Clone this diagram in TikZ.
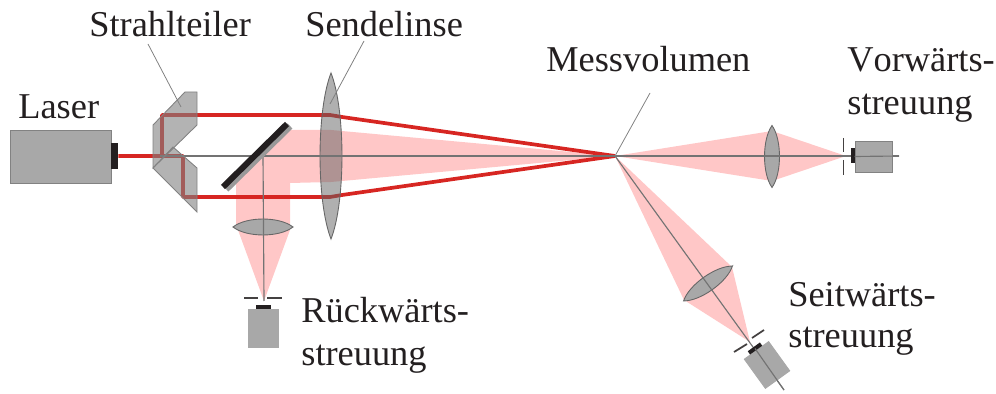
\documentclass[tikz,border=0pt]{standalone}
\usepackage{fontspec}
\setmainfont{Liberation Serif}
\usepackage{xcolor}
\usetikzlibrary{calc}
\definecolor{gehaeuse}{RGB}{168,168,168}
\definecolor{kante}{RGB}{130,130,130}
\definecolor{strahl}{RGB}{215,38,34}
\definecolor{tinte}{RGB}{35,31,32}
\tikzset{
  kasten/.style={rectangle, draw=kante, fill=gehaeuse, line width=0.5pt, inner sep=0pt},
  stutzen/.style={rectangle, fill=tinte, draw=none, inner sep=0pt},
  prisma/.style={draw=kante, fill=black!50, fill opacity=0.6, line width=0.5pt},
  linsenform/.style={draw=black!60, fill=gehaeuse, line width=0.5pt},
  linsenformA/.style={linsenform, fill=black!62, fill opacity=0.5},
  kegel/.style={fill=red!22, draw=none},
  achse/.style={draw=black!55, line width=0.65pt},
  leitlinie/.style={draw=black!50, line width=0.45pt},
  blende/.style={draw=tinte!85, line width=1pt},
  strahlgang/.style={draw=strahl, line width=2.1pt, line join=round},
  beschriftung/.style={font=\fontsize{20.7}{23}\selectfont, text=tinte, inner sep=0pt, align=left},
}
% center, half length, half width, rotation, style
\newcommand{\linse}[5]{
  \begin{scope}[shift={#1}, rotate=#4]
    \draw[#5] (0,-#2) .. controls ({#3*1.33},{-#2*0.55}) and ({#3*1.33},{#2*0.55}) .. (0,#2)
      .. controls ({-#3*1.33},{#2*0.55}) and ({-#3*1.33},{-#2*0.55}) .. cycle;
  \end{scope}
}
\begin{document}
\begin{tikzpicture}[x=0.02cm, y=-0.02cm]
  \useasboundingbox (0,0) rectangle (996,394);

  \coordinate (mess)  at (615,156);
  \coordinate (fokusV) at (846,156);
  \coordinate (fokusR) at (264,301);
  \coordinate (fokusS) at (750,342);

  % Kegel
  \fill[kegel] (mess) -- (772,131) -- (fokusV) -- (772,181) -- cycle;
  \fill[kegel] (mess) -- (732,267) -- (fokusS) -- (684,300) -- cycle;
  \fill[kegel] (236,224) -- (290,224) -- (290,183) -- (331,182) -- (mess) -- (331,130) -- (287,130) -- (236,178) -- cycle;
  \fill[kegel] (238,230) -- (fokusR) -- (290,230) -- cycle;

  % Laserstrahl
  \node[kasten, minimum width=2.02cm, minimum height=1.06cm] (laser) at (60.5,156.5) {};
  \node[stutzen, minimum width=0.14cm, minimum height=0.52cm] (ausgang) at (114.5,156) {};
  \draw[strahlgang] (ausgang.east) -- (183,156) -- (183,197) -- (330,197) -- (342,195) -- (mess);
  \draw[strahlgang] (162,156) -- (162,115) -- (330,115) -- (342,117) -- (mess);

  % Linsen
  \linse{(331,156)}{83}{11}{0}{linsenformA}
  \linse{(263,227)}{30}{8}{90}{linsenform}
  \linse{(772,156.5)}{31}{7.5}{0}{linsenform}
  \linse{(708,283.5)}{30}{7.5}{-54.5}{linsenform}

  % Achsen
  \draw[achse] (160,156) -- (899,156);
  \draw[achse] (263,156) -- (fokusR);
  \draw[achse] (mess) -- (784,390);

  % Strahlteiler
  \draw[prisma] (153,125) -- (185,92) -- (197,92) -- (197,125) -- (153,168) -- cycle;
  \draw[prisma] (153,168) -- (173,147) -- (197,168) -- (197,212) -- cycle;

  % Spiegel
  \draw[draw=black!40, line width=4pt] (226,189) -- (290,126);
  \draw[draw=tinte, line width=3.4pt] (223,187) -- (287,124);

  % Detektor Rueckwaerts
  \node[kasten, draw=gehaeuse, minimum width=0.6cm, minimum height=0.76cm] (detR) at (263,328) {};
  \node[stutzen, minimum width=0.3cm, minimum height=0.08cm] (nubR) at (263.5,307) {};
  \draw[blende] (244,298) -- (258,298);
  \draw[blende] (267,298) -- (282,298);

  % Detektor Vorwaerts
  \node[kasten, minimum width=0.74cm, minimum height=0.62cm] (detV) at (873.5,156.5) {};
  \node[stutzen, minimum width=0.09cm, minimum height=0.3cm] (nubV) at (853,156) {};
  \draw[blende] (843.5,138) -- (843.5,152);
  \draw[blende] (843.5,160) -- (843.5,175);
  \draw[achse] (detV.west) -- (899,156);

  % Detektor Seitwaerts
  \node[kasten, draw=gehaeuse, rotate=-54.2, minimum width=0.72cm, minimum height=0.6cm] (detS) at (767,365) {};
  \node[stutzen, rotate=-54.2, minimum width=0.08cm, minimum height=0.3cm] (nubS) at (755,348.5) {};
  \draw[blende] (734,352) -- (747,344);
  \draw[blende] (752,338) -- (764,330);
  \draw[achse] (nubS.center) -- (784,390);

  % Texte
  \node[beschriftung, anchor=base west] (tlaser) at (18,119) {Laser};
  \node[beschriftung, anchor=base west] (tteiler) at (89,37) {Strahlteiler};
  \node[beschriftung, anchor=base west] (tlinse) at (305,37) {Sendelinse};
  \node[beschriftung, anchor=base west] (tmess) at (546,72) {Messvolumen};
  \node[beschriftung, anchor=base west] (tvor) at (847,72) {\addfontfeature{Kerning=Off}Vorwärts-};
  \node[beschriftung, anchor=base west] (tvor2) at (847,115) {streuung};
  \node[beschriftung, anchor=base west] (trueck) at (301,323) {Rückwärts-};
  \node[beschriftung, anchor=base west] (trueck2) at (301,365) {streuung};
  \node[beschriftung, anchor=base west] (tseit) at (788,307) {Seitwärts-};
  \node[beschriftung, anchor=base west] (tseit2) at (788,348) {streuung};

  % Leitlinien
  \coordinate (zielT) at (181,107);
  \coordinate (zielL) at (330,104);
  \coordinate (startT) at (148,44);
  \coordinate (startL) at (364,41);
  \draw[leitlinie] (startT) -- (zielT);
  \draw[leitlinie] (startL) -- (zielL);
  \draw[leitlinie] (mess) -- (650,93);
\end{tikzpicture}
\end{document}
